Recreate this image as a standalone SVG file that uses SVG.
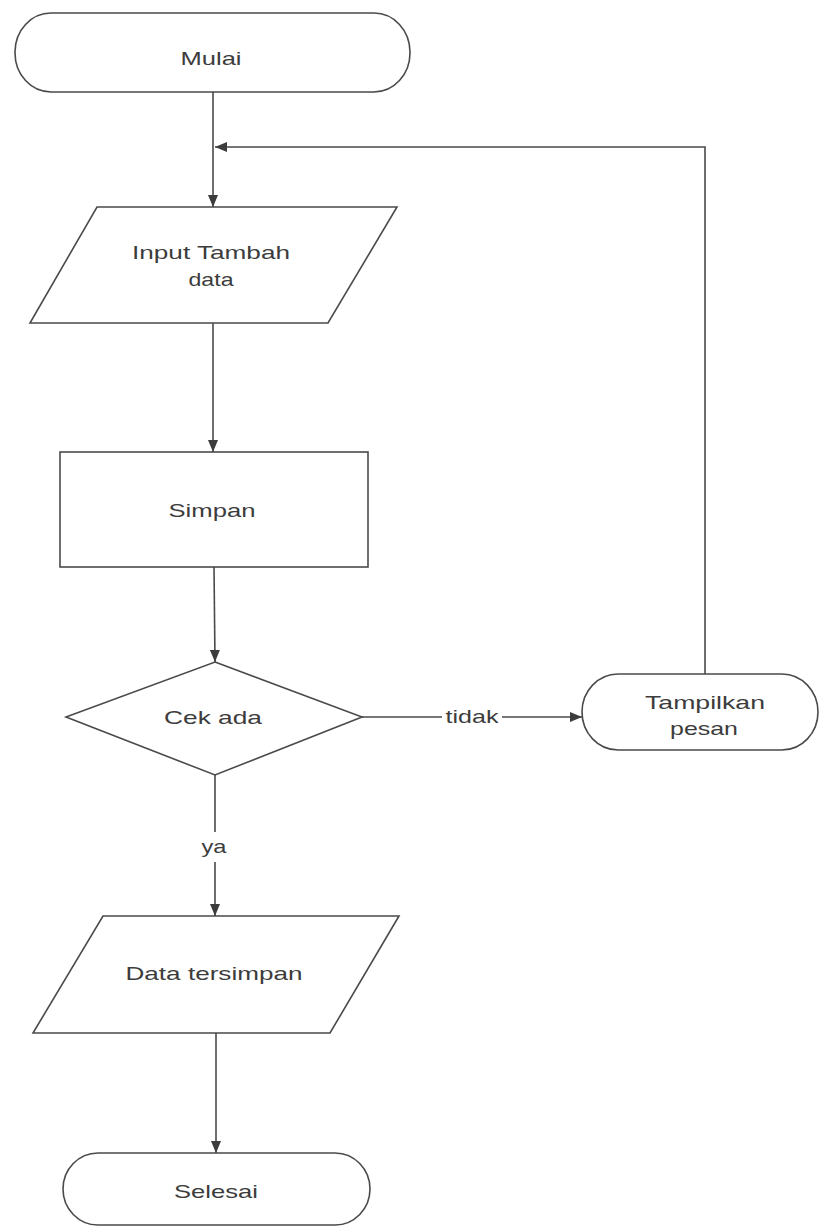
<svg xmlns="http://www.w3.org/2000/svg" width="819" height="1228" viewBox="0 0 819 1228">
  <style>
    .shape { fill: #ffffff; stroke: #4a4a4a; stroke-width: 1.6; }
    .edge { fill: none; stroke: #4a4a4a; stroke-width: 1.6; }
    .label { font-family: "Liberation Sans", Arial, sans-serif; font-size: 19px; fill: #3c3c3c; text-anchor: middle; }
  </style>
  <defs>
    <marker id="arrow" viewBox="0 0 12 10" refX="12" refY="5" markerWidth="12" markerHeight="10" markerUnits="userSpaceOnUse" orient="auto">
      <path d="M0,0 L12,5 L0,10 Z" fill="#3c3c3c"/>
    </marker>
  </defs>
  <rect width="819" height="1228" fill="#ffffff"/>

  <g id="connectors">
    <path class="edge" d="M213,92 L213,207" marker-end="url(#arrow)"/>
    <path class="edge" d="M705,674 L705,147 L215,147" marker-end="url(#arrow)"/>
    <path class="edge" d="M213,323 L213,452" marker-end="url(#arrow)"/>
    <path class="edge" d="M214,567 L215,662" marker-end="url(#arrow)"/>
    <path class="edge" d="M362,717 L442,717"/>
    <path class="edge" d="M502,717 L582,717" marker-end="url(#arrow)"/>
    <text class="label" x="472" y="723" textLength="53" lengthAdjust="spacingAndGlyphs">tidak</text>
    <path class="edge" d="M215,775 L215,832"/>
    <path class="edge" d="M215,862 L215,916" marker-end="url(#arrow)"/>
    <text class="label" x="214" y="853" textLength="25" lengthAdjust="spacingAndGlyphs">ya</text>
    <path class="edge" d="M216,1033 L216,1153" marker-end="url(#arrow)"/>
  </g>

  <g id="mulai">
    <rect class="shape" x="15" y="13" width="395" height="79" rx="36" ry="39"/>
    <text class="label" x="211" y="65" textLength="61" lengthAdjust="spacingAndGlyphs">Mulai</text>
  </g>

  <g id="input-tambah-data">
    <polygon class="shape" points="97,207 397,207 328,323 30,323"/>
    <text class="label" x="211" y="259" textLength="158" lengthAdjust="spacingAndGlyphs">Input Tambah</text>
    <text class="label" x="211" y="286" textLength="45" lengthAdjust="spacingAndGlyphs">data</text>
  </g>

  <g id="simpan">
    <rect class="shape" x="60" y="452" width="308" height="115"/>
    <text class="label" x="212" y="517" textLength="87" lengthAdjust="spacingAndGlyphs">Simpan</text>
  </g>

  <g id="cek-ada">
    <polygon class="shape" points="215,662 362,717 215,775 66,717"/>
    <text class="label" x="213" y="724" textLength="98" lengthAdjust="spacingAndGlyphs">Cek ada</text>
  </g>

  <g id="tampilkan-pesan">
    <rect class="shape" x="582" y="674" width="236" height="76" rx="36" ry="38"/>
    <text class="label" x="705" y="709" textLength="120" lengthAdjust="spacingAndGlyphs">Tampilkan</text>
    <text class="label" x="704" y="735" textLength="68" lengthAdjust="spacingAndGlyphs">pesan</text>
  </g>

  <g id="data-tersimpan">
    <polygon class="shape" points="103,916 399,916 330,1033 33,1033"/>
    <text class="label" x="214" y="980" textLength="177" lengthAdjust="spacingAndGlyphs">Data tersimpan</text>
  </g>

  <g id="selesai">
    <rect class="shape" x="63" y="1153" width="307" height="72" rx="35" ry="36"/>
    <text class="label" x="216" y="1198" textLength="84" lengthAdjust="spacingAndGlyphs">Selesai</text>
  </g>
</svg>
